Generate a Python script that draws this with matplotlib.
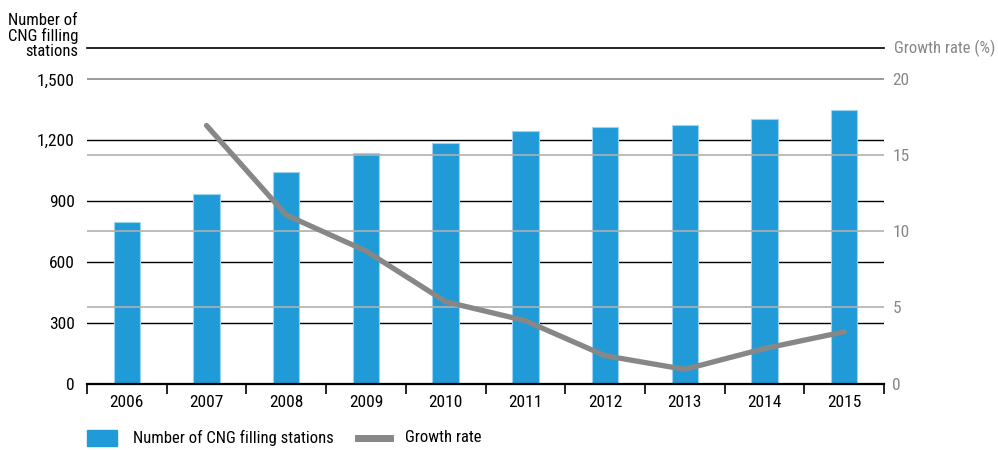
import matplotlib
matplotlib.use("Agg")
import matplotlib.pyplot as plt
from matplotlib import font_manager
from matplotlib.patches import Rectangle
from matplotlib.lines import Line2D
import numpy as np

years = ["2006", "2007", "2008", "2009", "2010", "2011", "2012", "2013", "2014", "2015"]
stations = [795, 933, 1042, 1136, 1188, 1244, 1264, 1275, 1306, 1349]
growth_years = years[1:]
growth = [16.97, 11.08, 8.72, 5.38, 4.13, 1.83, 0.93, 2.3, 3.4]

left_ticks = [0, 300, 600, 900, 1200, 1500]
right_ticks = [0, 5, 10, 15, 20]

# narrow-ish font if we have one
names = {f.name for f in font_manager.fontManager.ttflist}
font = "DejaVu Sans"
for cand in ["Roboto Condensed", "Liberation Sans Narrow", "Open Sans Condensed", "Roboto"]:
    if cand in names:
        font = cand
        break
plt.rcParams["font.family"] = [font, "DejaVu Sans"]
FS = 12.5

BLUE = "#209bd7"
GREY = "#878787"

fig = plt.figure(figsize=(9.98, 4.5), dpi=100)
ax = fig.add_axes([87 / 998, 66.5 / 450, (884 - 87) / 998, (383.5 - 48) / 450])
ax2 = ax.twinx()

top_left = 1655
ax.set_ylim(0, top_left)
ax2.set_ylim(0, top_left / 75)

x = np.arange(len(years))
ax.set_xlim(-0.5, len(years) - 0.5)

# grid lines: black for left axis, grey for right axis
for v in left_ticks[1:-1]:
    ax.axhline(v, color="black", lw=1.0, zorder=0)
for v in right_ticks[1:-1]:
    ax2.axhline(v, color="#b0b0b0", lw=1.2, zorder=0)
ax2.axhline(right_ticks[-1], color="#8a8a8a", lw=1.2, zorder=0)
ax.axhline(top_left, color="black", lw=1.2, zorder=0, clip_on=False)

ax.bar(x, stations, width=0.33, color=BLUE, edgecolor="#9ad4f2", linewidth=0.8, zorder=2)
gx = [years.index(y) for y in growth_years]
ax2.plot(gx, growth, color=GREY, lw=3.8, solid_capstyle="round", zorder=3)

ax.set_zorder(ax2.get_zorder() - 1)
ax.patch.set_visible(False)
ax2.patch.set_visible(False)

for a in (ax, ax2):
    for s in ("top", "left", "right"):
        a.spines[s].set_visible(False)
ax2.spines["bottom"].set_visible(False)
ax.spines["bottom"].set_linewidth(1.6)

ax.set_xticks(x)
ax.set_xticklabels(years, fontsize=FS)
ax.set_xticks(np.arange(-0.5, len(years)), minor=True)
ax.tick_params(axis="x", which="major", length=0, pad=8)
ax.tick_params(axis="x", which="minor", length=7, width=1.2, direction="out")

ax.set_yticks(left_ticks)
ax.set_yticklabels([f"{v:,}" for v in left_ticks], fontsize=FS)
ax.tick_params(axis="y", length=0, pad=9)

ax2.set_yticks(right_ticks)
ax2.set_yticklabels([str(v) for v in right_ticks], fontsize=FS, color=GREY)
ax2.tick_params(axis="y", length=0, pad=6)

fig.text(78 / 998, 1 - 36 / 450, "Number of\nCNG filling\nstations", ha="right", va="center",
         fontsize=FS - 0.5, linespacing=1.0)
fig.text(995 / 998, 1 - 48 / 450, "Growth rate (%)", ha="right", va="center",
         fontsize=FS - 0.5, color=GREY)

# legend drawn by hand to match placement
fig.add_artist(Rectangle((87 / 998, 1 - 446 / 450), 30 / 998, 16 / 450,
                         transform=fig.transFigure, color=BLUE))
fig.text(133 / 998, 1 - 438 / 450, "Number of CNG filling stations", ha="left", va="center",
         fontsize=FS - 0.5)
fig.add_artist(Line2D([358 / 998, 390 / 998], [1 - 438 / 450, 1 - 438 / 450],
                      transform=fig.transFigure, color=GREY, lw=5))
fig.text(405 / 998, 1 - 438 / 450, "Growth rate", ha="left", va="center", fontsize=FS - 0.5)

fig.savefig("out.png", dpi=100)
